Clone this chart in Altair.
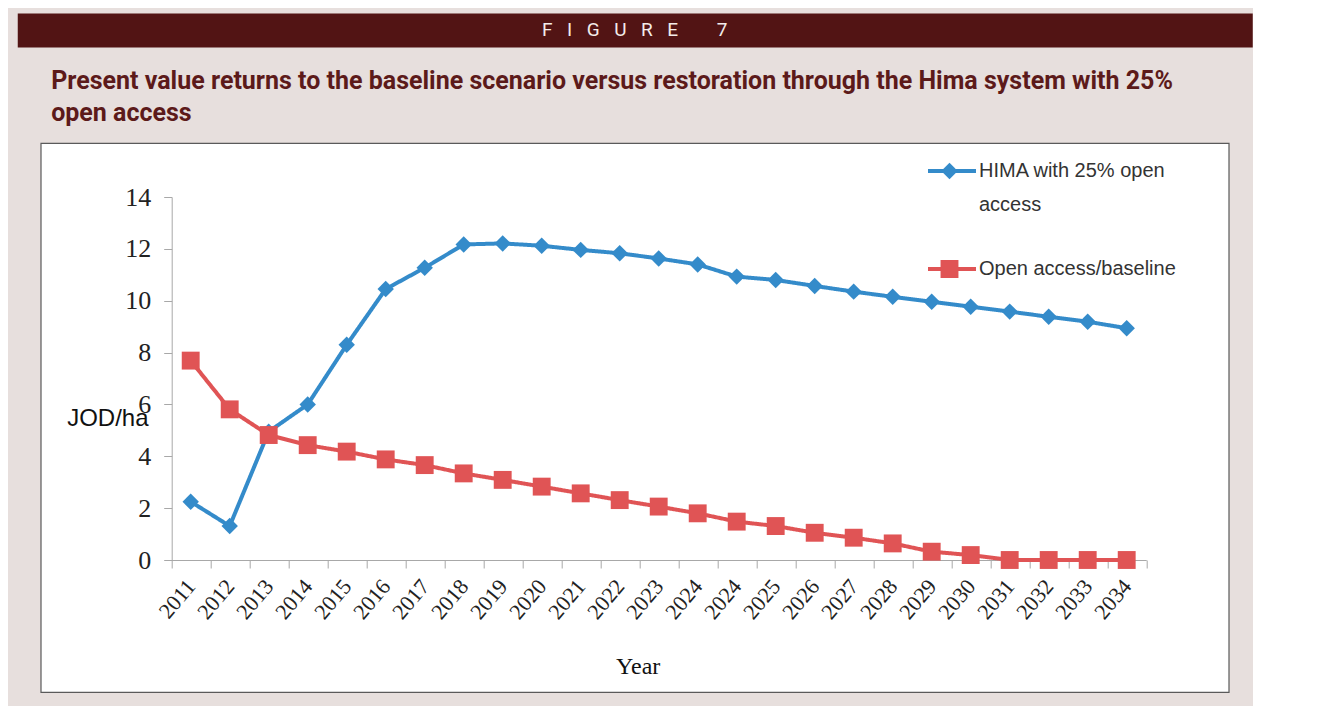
import altair as alt
import pandas as pd

# ---------------- data ----------------
years = ["2011", "2012", "2013", "2014", "2015", "2016", "2017", "2018", "2019",
         "2020", "2021", "2022", "2023", "2024", "2024", "2025", "2026", "2027",
         "2028", "2029", "2030", "2031", "2032", "2033", "2034"]
hima = [2.25, 1.31, 4.95, 6.0, 8.3, 10.45, 11.27, 12.17, 12.21, 12.12, 11.96, 11.83,
        11.63, 11.4, 10.93, 10.8, 10.57, 10.35, 10.15, 9.96, 9.77, 9.58, 9.38, 9.19, 8.94]
baseline = [7.69, 5.81, 4.82, 4.43, 4.18, 3.88, 3.66, 3.34, 3.09, 2.83, 2.57, 2.31,
            2.06, 1.8, 1.48, 1.31, 1.05, 0.86, 0.64, 0.32, 0.19, 0.0, 0.0, 0.0, 0.0]
series_names = ["HIMA with 25% open access", "Open access/baseline"]
series_colors = ["#348bca", "#e05455"]
series_shapes = ["diamond", "square"]
y_ticks = [0, 2, 4, 6, 8, 10, 12, 14]
header_text = ("F\u2002\u2005I\u2002\u2005G\u2002\u2005U\u2002\u2005R\u2002\u2005E"
               "\u2002\u2002\u2002\u20027")
title_lines = ["Present value returns to the baseline scenario versus restoration through the Hima system with 25%",
               "open access"]

rows = []
for s, vals in zip(series_names, [hima, baseline]):
    for i, v in enumerate(vals):
        rows.append({"idx": i, "series": s, "series_b": s, "series_c": s,
                     "series_d": s, "value": v})
df = pd.DataFrame(rows)

# ---------------- layout ----------------
W, H = 1188, 549
x_range = [130.5, 1105.5]
y_range = [417, 54]

label_expr = "[" + ",".join("'%s'" % y for y in years) + "][datum.value]"
first_line_expr = ("datum.label == '%s' ? 'HIMA with 25%% open' : datum.label" % series_names[0])
second_line_expr = ("datum.label == '%s' ? 'access' : ''" % series_names[0])
no_label_expr = "''"

AXC = "#a8a8a8"
x_enc = alt.X("idx:O",
              scale=alt.Scale(type="band", range=x_range, paddingInner=0, paddingOuter=0),
              axis=alt.Axis(title="Year", labelExpr=label_expr, labelAngle=310,
                            labelAlign="right", labelBaseline="middle",
                            labelFont="Liberation Serif", labelFontSize=22, labelColor="#222222",
                            labelPadding=14, labelOverlap=False, tickBand="extent", tickSize=8,
                            tickColor=AXC, domainColor=AXC, offset=-132, grid=False,
                            titleFont="Liberation Serif", titleFontSize=24, titleFontWeight="normal",
                            titleColor="#111111", titleX=597, titleY=106, titleAlign="center",
                            titleBaseline="middle"))
y_enc = alt.Y("value:Q",
              scale=alt.Scale(domain=[0, 14], range=y_range, nice=False, zero=True),
              axis=alt.Axis(values=y_ticks, title="JOD/ha", titleAngle=0, titleX=-105, titleY=275,
                            titleAlign="left", titleBaseline="middle", titleFont="Liberation Sans",
                            titleFontSize=24, titleFontWeight="normal", titleColor="#111111",
                            labelFont="Liberation Serif", labelFontSize=26, labelColor="#222222",
                            labelPadding=13, tickSize=8, tickColor=AXC, domainColor=AXC,
                            offset=-131, grid=False))

LY = 146
RP = 74
common = dict(orient="none", title=None, padding=0, labelFont="Liberation Sans", labelFontSize=20,
              labelColor="#333333", labelLimit=400, labelBaseline="middle", rowPadding=RP,
              clipHeight=24)

legA = alt.Legend(legendX=909, legendY=LY, symbolType="stroke", symbolSize=2304,
                  symbolStrokeWidth=4, labelExpr=no_label_expr, **common)
legB = alt.Legend(legendX=922.5, legendY=LY, symbolStrokeWidth=0,
                  labelExpr=no_label_expr, **common)
legC = alt.Legend(legendX=942, legendY=LY, symbolSize=0, symbolStrokeWidth=0, symbolOpacity=0,
                  labelOffset=0, labelExpr=first_line_expr, **common)
legD = alt.Legend(legendX=942, legendY=LY + 34, symbolSize=0, symbolStrokeWidth=0, symbolOpacity=0,
                  labelOffset=0, labelExpr=second_line_expr, **common)

base = alt.Chart(df)
lines = base.mark_line(strokeWidth=4).encode(
    x=x_enc, y=y_enc,
    stroke=alt.Stroke("series:N", scale=alt.Scale(domain=series_names, range=series_colors), legend=legA),
    strokeDash=alt.StrokeDash("series_c:N", scale=alt.Scale(range=[[1, 0], [1, 0]]), legend=legC),
    opacity=alt.Opacity("series_d:N", scale=alt.Scale(range=[1, 1]), legend=legD),
)
points = base.mark_point(filled=True, opacity=1).encode(
    x=x_enc, y=y_enc,
    fill=alt.Fill("series_b:N", scale=alt.Scale(range=series_colors), legend=legB),
    shape=alt.Shape("series_b:N", scale=alt.Scale(range=series_shapes), legend=legB),
    size=alt.Size("series_b:N", scale=alt.Scale(range=[270, 320]), legend=legB),
)

main = alt.layer(lines, points).properties(
    width=W, height=H,
    view=alt.ViewBackground(fill="white", stroke="#5a5a5a", strokeWidth=1.2),
    title=alt.TitleParams(title_lines, anchor="start", frame="group", font="Roboto", fontSize=25,
                          fontWeight="bold", color="#5c1a1a", lineHeight=32, offset=17, dx=10.5),
)

header = alt.Chart(pd.DataFrame({"t": [header_text]})).mark_text(
    font="Roboto", fontSize=19, color="#f3ecea"
).encode(text="t:N").properties(
    width=1235, height=34,
    view=alt.ViewBackground(fill="#521414", stroke="transparent"),
)

chart = alt.vconcat(header, main, spacing=20, center=True).configure(
    background="#e7dfdd",
    padding={"left": 8, "top": 4, "right": 0, "bottom": 14},
).configure_view(stroke="transparent")

chart.save("out.html", embed_options={"renderer": "svg", "actions": False})
